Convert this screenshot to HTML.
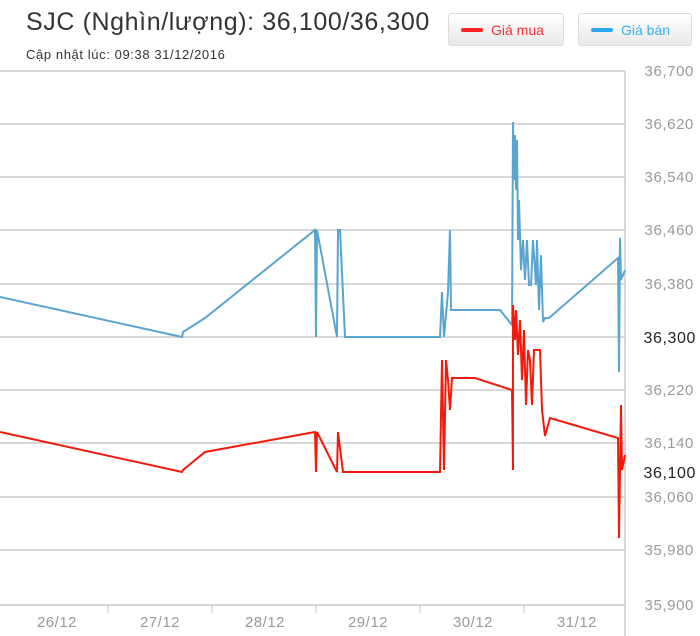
<!DOCTYPE html>
<html><head><meta charset="utf-8"><style>
body{margin:0;width:700px;height:636px;background:#fff;font-family:"Liberation Sans",sans-serif;overflow:hidden;position:relative}
.t{position:absolute;left:26px;top:8px;font-size:25px;color:#333;letter-spacing:0.6px}
.u{position:absolute;left:26px;top:47px;font-size:13px;color:#333;letter-spacing:0.6px}
.b{position:absolute;top:13px;height:33px;border:1px solid #ddd;border-radius:3px;background:linear-gradient(#fff,#e8e8e8);font-size:14px;line-height:33px;box-sizing:border-box}
.b i{display:inline-block;width:22px;height:4px;vertical-align:middle;margin:0 8px 2px 12px;border-radius:2px}
</style></head><body>
<div class="t">SJC (Nghìn/lượng): 36,100/36,300</div>
<div class="u">Cập nhật lúc: 09:38 31/12/2016</div>
<div class="b" style="left:448px;width:116px;color:#e33"><i style="background:#f22"></i>Giá mua</div>
<div class="b" style="left:578px;width:114px;color:#3ab0e8"><i style="background:#2aa8ee"></i>Giá bán</div>
<svg width="700" height="636" style="position:absolute;left:0;top:0">
<g stroke="#ccc" stroke-width="1.5">
<line x1="0" y1="71" x2="625" y2="71"/><line x1="0" y1="124" x2="625" y2="124"/><line x1="0" y1="177" x2="625" y2="177"/><line x1="0" y1="230" x2="625" y2="230"/><line x1="0" y1="284" x2="625" y2="284"/><line x1="0" y1="337" x2="625" y2="337"/><line x1="0" y1="390" x2="625" y2="390"/><line x1="0" y1="443" x2="625" y2="443"/><line x1="0" y1="497" x2="625" y2="497"/><line x1="0" y1="550" x2="625" y2="550"/><line x1="0" y1="605" x2="625" y2="605"/>
<line x1="625" y1="71" x2="625" y2="636"/>
</g>
<g stroke="#ccc"><line x1="108" y1="605" x2="108" y2="613"/><line x1="212" y1="605" x2="212" y2="613"/><line x1="316" y1="605" x2="316" y2="613"/><line x1="420" y1="605" x2="420" y2="613"/><line x1="524" y1="605" x2="524" y2="613"/></g>
<g font-size="15" fill="#999" text-anchor="end" letter-spacing="0.6">
<text x="694" y="76">36,700</text><text x="694" y="129">36,620</text><text x="694" y="182">36,540</text><text x="694" y="235">36,460</text><text x="694" y="289">36,380</text>
<text x="696" y="343" fill="#222" font-size="16">36,300</text>
<text x="694" y="395">36,220</text><text x="694" y="448">36,140</text>
<text x="696" y="478" fill="#222" font-size="16">36,100</text>
<text x="694" y="502">36,060</text><text x="694" y="555">35,980</text><text x="694" y="610">35,900</text>
</g>
<g font-size="15" fill="#999" text-anchor="middle" letter-spacing="0.5">
<text x="57" y="627">26/12</text><text x="160" y="627">27/12</text><text x="265" y="627">28/12</text><text x="368" y="627">29/12</text><text x="473" y="627">30/12</text><text x="577" y="627">31/12</text>
</g>
<polyline fill="none" stroke="#5aa4d0" stroke-width="2" points="0,297 182,337 183,332 205,318 315,230 316,337 317,230 337,337 338,230 340,230 345,337 440,337 442,292 444,337 448,292 450,230 451,310 455,310 500,310 512,325 513,122 514,180 515,135 516,190 517,140 518,240 519,200 521,270 523,240 525,280 527,240 529,285 531,285 533,240 536,285 537,240 539,310 541,255 543,322 545,318 549,318 618,258 619,372 620,238 621,280 625,270"/>
<polyline fill="none" stroke="#f21a0a" stroke-width="2" points="0,432 182,472 183,470 205,452 315,432 316,472 317,432 337,472 338,432 343,472 440,472 442,360 444,470 446,360 448,380 450,410 452,378 456,378 475,378 512,390 513,470 513,305 515,340 516,310 518,355 520,320 522,380 524,330 526,405 528,350 530,360 532,405 534,350 540,350 542,410 545,436 550,418 618,438 619,538 621,405 622,470 625,455"/>
</svg>
</body></html>
